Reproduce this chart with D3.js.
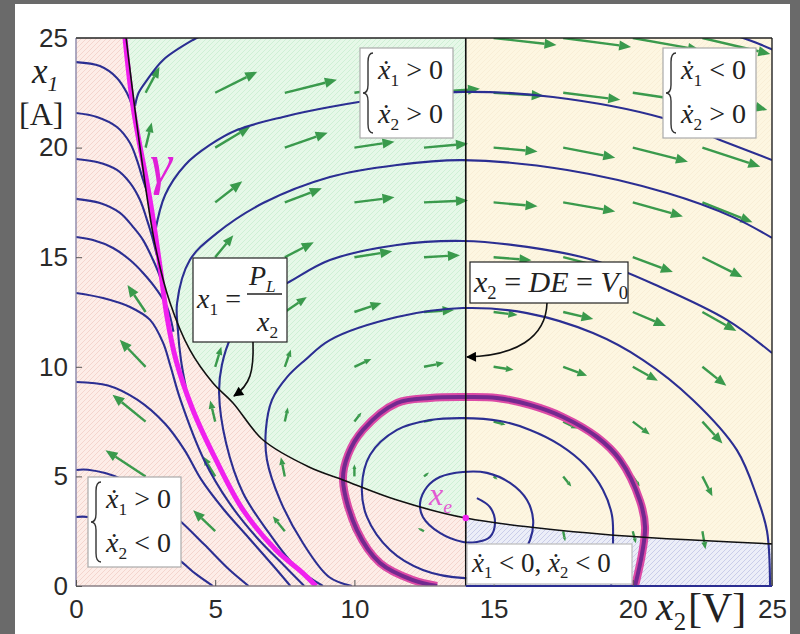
<!DOCTYPE html>
<html>
<head>
<meta charset="utf-8">
<script src="https://cdn.jsdelivr.net/npm/d3@7"></script>
<style>
  body { margin: 0; background: #6a6a6a; }
  svg { display: block; }
</style>
</head>
<body>
<div id="chart"></div>
<script>
// axis ticks
const xTicks = [0, 5, 10, 15, 20, 25];
const yTicks = [0, 5, 10, 15, 20, 25];

// x2 = DE = V0 and equilibrium x_e  (x2 [V], x1 [A])
const V0 = 14;
const xe = [14, 3.1];

// x1 = P_L / x2
const hyperbola = [[1.80,25],[2.30,20],[2.84,15.56],[3.38,12.91],[4.09,10.77],[4.92,9.26],[5.64,8.35],
  [6.72,6.66],[8.37,5.43],[9.59,4.84],[11.53,3.92],[14,3.1],[18.82,2.37],[25,1.92]];

// gamma (magenta separatrix)
const gamma = [[1.76,25],[2.05,21.85],[2.66,17.61],[3.02,14.55],[3.27,12.27],[3.59,10.31],[4.20,8.03],
  [5.03,5.75],[6.00,3.47],[7.18,1.64],[8.15,0.59],[8.62,0]];

// thick purple trajectory around x_e
const ring = [[12.97,0],[12.10,0.27],[10.92,1.05],[10.09,2.55],[9.59,4.84],[9.77,5.98],[10.31,7.12],
  [11.53,8.35],[12.72,8.58],[13.90,8.62],[15.12,8.58],[16.31,8.26],[17.49,7.71],[18.71,6.80],
  [19.54,5.75],[20.26,3.88],[20.44,2.69],[20.33,1.46],[20.08,0]];

// spiral leaving x_e
const spiral = [[14.40,4.01],[14.87,3.60],[15.05,2.87],[14.87,2.24],[14.40,2.01],[13.90,2.01],[13.07,2.42],
  [12.46,3.15],[12.36,3.79],[12.61,4.52],[13.07,4.97],[13.90,5.20],[14.76,5.16],[15.59,4.70],[16.20,3.92],
  [16.42,3.01],[16.31,2.10],[15.77,0.96],[14.87,0.46],[13.97,0.36],[12.46,0.73],[11.28,1.64],[10.45,3.15],
  [10.27,4.52],[10.56,5.98],[11.53,7.12],[12.72,7.57],[13.90,7.66],[15.23,7.53],[16.31,7.12],[17.39,6.43],
  [18.28,5.52],[18.93,4.38],[19.25,3.24],[19.29,2.05],[19.22,0]];

// trajectories left of gamma
const left1 = [[0,23.9],[0.86,23.72],[1.47,23.18],[1.83,22.49],[2.03,21.85],[2.12,21.2]];
const left2 = [[0,21.58],[0.75,21.40],[1.47,20.94],[1.94,20.21],[2.19,19.43],[2.41,18.52],[2.6,17.8]];
const left3 = [[0,19.48],[0.75,19.34],[1.47,18.98],[1.94,18.39],[2.30,17.61],[2.55,16.70],[2.77,15.78],[2.9,15.1]];
const left4 = [[0,17.66],[0.86,17.47],[1.58,17.02],[2.05,16.38],[2.41,15.78],[2.77,14.87],[3.02,14.10],[3.2,13.3]];
const left5 = [[0,15.92],[0.61,15.78],[1.33,15.42],[1.94,14.87],[2.41,14.28],[2.91,13.50],[3.27,12.73],[3.5,11.6]];
const left6 = [[0,13.37],[0.97,13.14],[1.94,12.73],[2.66,12.14],[3.13,11.09],[3.40,10.0],[3.75,8.5],
  [4.6,5.75],[5.5,3.8],[6.5,2.2],[7.5,0.9],[8.2,0]];
const left7 = [[0,9.31],[1.15,9.15],[2.2,8.5],[3.2,7.4],[3.9,6.2],[4.5,4.85],[5.3,3.5],[6.2,2.2],[7.1,0.9],[7.7,0]];
const left8 = [[0,5.29],[0.43,5.3],[1.6,4.9],[2.8,3.9],[3.70,3.01],[4.6,1.9],[5.5,0.75],[6.2,0]];
const left9 = [[0,3.15],[0.43,3.15],[1.6,2.7],[2.8,1.9],[3.70,1.19],[4.3,0.55],[4.92,0]];

// trajectories right of gamma
const right1 = [[2.12,21.9],[2.25,22.5],[2.55,23.08],[3.13,24.0],[4.20,24.91],[4.5,25.1]];
const right2 = [[2.84,16.15],[3.20,17.84],[3.92,19.21],[4.81,20.12],[5.78,20.80],[7.44,21.40],[9.12,21.85],
  [11.17,22.26],[13.90,22.54],[17.13,22.31],[21.08,21.35],[23.13,20.35],[25,19.43]];
const right3 = [[3.95,9.03],[3.77,10.31],[3.66,11.68],[3.63,12.91],[4.09,14.87],[5.06,16.10],[6.72,17.47],
  [9.12,18.66],[11.53,19.21],[13.90,19.43],[17.64,18.98],[21.23,17.93],[23.60,16.83],[25,15.88]];
const right4 = [[8.87,0],[7.90,0.87],[6.93,2.42],[6.00,4.24],[5.39,6.52],[5.14,8.80],[5.24,10.08],[5.60,11.45],
  [6.43,13.05],[7.58,13.82],[9.12,14.87],[11.53,15.56],[13.90,15.74],[16.20,15.47],[18.57,14.87],
  [20.98,13.64],[23.38,12.14],[25,10.63]];
const right5 = [[9.91,0],[9.09,0.41],[8.15,1.96],[7.33,3.92],[6.86,5.75],[6.82,7.12],[7.04,8.49],[7.58,9.53],
  [8.23,10.31],[9.12,11.22],[11.53,12.27],[13.90,12.68],[16.20,12.45],[18.57,11.54],[20.37,10.31],
  [22.16,8.49],[23.74,6.20],[24.46,4.06],[24.82,2.51],[24.93,0]];
const corner = [[23.85,25.05],[24.5,24.75],[25.05,24.45]];

// vector field (quiver): grid point and vector components in axis units
const quiverX2 = [15,17.5,20,22.5, 2.5,5,7.5,10,12.5,15,17.5,20,22.5, 2.5,5,7.5,10,12.5,15,17.5,20,22.5,
  5,7.5,10,12.5,15,17.5,20,22.5, 5,7.5,10,12.5,15,17.5,20,22.5, 2.5,7.5,10,12.5,15,17.5,20,22.5,
  2.5,5,7.5,10,12.5,15,17.5,20,22.5, 2.5,5,7.5,10,12.5,15,17.5,20,22.5, 2.5,5,7.5,10,12.5,15,17.5,20,22.5,
  5,7.5,10,12.5,17.5,20,22.5];
const quiverX1 = [25,25,25,25, 22.5,22.5,22.5,22.5,22.5,22.5,22.5,22.5,22.5, 20,20,20,20,20,20,20,20,20,
  17.5,17.5,17.5,17.5,17.5,17.5,17.5,17.5, 15,15,15,15,15,15,15,15, 12.5,12.5,12.5,12.5,12.5,12.5,12.5,12.5,
  10,10,10,10,10,10,10,10,10, 7.5,7.5,7.5,7.5,7.5,7.5,7.5,7.5,7.5, 5,5,5,5,5,5,5,5,5,
  2.5,2.5,2.5,2.5,2.5,2.5,2.5];
const quiverU = [2.26,2.44,2.41,2.44, 0.50,1.51,1.87,1.98,2.01,1.80,2.05,2.16,2.33, 0.22,1.26,1.54,1.44,1.58,1.58,1.87,1.98,2.08,
  0.97,1.33,1.44,1.58,1.58,1.87,1.80,1.80, 0.65,1.04,1.36,1.29,1.36,1.72,1.44,1.44, -0.65,0.79,0.97,1.08,0.86,1.08,1.19,1.22,
  -0.93,0.22,0.22,0.61,0.72,0.72,0.86,0.90,0.86, -1.19,-0.18,0.11,0.25,0.36,0.43,0.50,0.61,0.72,
  -1.44,-0.43,-0.14,0,0.18,0.14,0.29,0.25,0.36, -0.79,-0.43,-0.14,-0.22,0.07,0.11,0.11];
const quiverV = [-0.32,-0.41,-0.55,-0.73, 1.19,0.96,0.59,0.36,0.18,-0.14,-0.32,-0.41,-0.78, 1.14,0.96,0.68,0.27,0.18,-0.18,-0.46,-0.64,-0.87,
  0.96,0.64,0.23,0.09,-0.18,-0.41,-0.64,-0.91, 1.00,0.68,0.27,0.09,-0.14,-0.55,-0.68,-0.91, 1.23,0.68,0.41,0.09,-0.14,-0.32,-0.64,-0.87,
  1.23,0.91,0.78,0.36,0.18,-0.14,-0.41,-0.64,-0.87, 1.23,0.96,0.64,0.41,0.09,-0.14,-0.32,-0.59,-1.00,
  1.19,0.91,0.87,0.55,0.18,-0.14,-0.46,-0.46,-0.91, 0.96,0.68,0.46,0.14,-0.46,-0.55,-0.82];

const w = 800, h = 634;
const serif = "'Liberation Serif', 'DejaVu Serif', serif";
const sans = "'Liberation Sans', Arial, sans-serif";

const x = d3.scaleLinear().domain([0, 25]).range([76, 772]);
const y = d3.scaleLinear().domain([0, 25]).range([586, 38]);

const svg = d3.select("#chart").append("svg").attr("width", w).attr("height", h);
svg.append("rect").attr("width", w).attr("height", h).attr("fill", "#6a6a6a");
svg.append("rect").attr("x", 15).attr("y", 4).attr("width", 775).attr("height", 630).attr("fill", "#fff");

const defs = svg.append("defs");
defs.append("clipPath").attr("id", "plot").append("rect")
  .attr("x", x(0)).attr("y", y(25)).attr("width", x(25) - x(0)).attr("height", y(0) - y(25));

function hatch(id, bg, line) {
  const p = defs.append("pattern").attr("id", id).attr("patternUnits", "userSpaceOnUse")
    .attr("width", 5).attr("height", 5);
  p.append("rect").attr("width", 5).attr("height", 5).attr("fill", bg);
  p.append("path").attr("d", "M-1,1 l2,-2 M0,5 l5,-5 M4,6 l2,-2")
    .attr("stroke", line).attr("stroke-width", 0.9);
}
hatch("pink", "#fdede8", "#f3d3cb");
hatch("green", "#e6f8e8", "#cdefd3");
hatch("yellow", "#fdf6e1", "#f8edd5");
hatch("blue", "#eceef8", "#c6cae8");

defs.append("marker").attr("id", "head").attr("viewBox", "0 0 10 10")
  .attr("refX", 9).attr("refY", 5).attr("markerWidth", 15).attr("markerHeight", 10)
  .attr("markerUnits", "userSpaceOnUse").attr("orient", "auto")
  .append("path").attr("d", "M0,0 L10,5 L0,10 Z").attr("fill", "#000");

const curve = d3.line().x(d => x(d[0])).y(d => y(d[1])).curve(d3.curveCatmullRom.alpha(0.5));
const seg = pts => "L" + curve(pts).slice(1);

const plot = svg.append("g").attr("clip-path", "url(#plot)");

// regions
const hypL = hyperbola.filter(d => d[0] <= V0);
const hypR = hyperbola.filter(d => d[0] >= V0);
plot.append("path").attr("fill", "url(#pink)")
  .attr("d", `M${x(0)},${y(0)}L${x(0)},${y(25)}${seg(hypL)}L${x(V0)},${y(0)}Z`);
plot.append("path").attr("fill", "url(#green)")
  .attr("d", `${curve(hypL)}L${x(V0)},${y(25)}Z`);
plot.append("path").attr("fill", "url(#yellow)")
  .attr("d", `M${x(V0)},${y(25)}L${x(25)},${y(25)}${seg(hypR.slice().reverse())}Z`);
plot.append("path").attr("fill", "url(#blue)")
  .attr("d", `${curve(hypR)}L${x(25)},${y(0)}L${x(V0)},${y(0)}Z`);

// vector field
const quiver = quiverX2.map((d, i) => ({x2: d, x1: quiverX1[i], u: quiverU[i], v: quiverV[i]}));
quiver.forEach(q => {
  const x0 = x(q.x2), y0 = y(q.x1), x1 = x(q.x2 + q.u), y1 = y(q.x1 + q.v);
  const len = Math.hypot(x1 - x0, y1 - y0);
  if (len < 1) return;
  const ux = (x1 - x0) / len, uy = (y1 - y0) / len;
  const hl = Math.min(12, len * 0.38), hw = hl * 0.42;
  const bx = x1 - ux * hl, by = y1 - uy * hl;
  plot.append("line").attr("x1", x0).attr("y1", y0).attr("x2", bx).attr("y2", by)
    .attr("stroke", "#3a9a4c").attr("stroke-width", 2.4);
  plot.append("path")
    .attr("d", `M${x1},${y1}L${bx - uy * hw},${by + ux * hw}L${bx + uy * hw},${by - ux * hw}Z`)
    .attr("fill", "#3a9a4c");
});

// trajectories
const trajectories = [left1, left2, left3, left4, left5, left6, left7, left8, left9,
  right1, right2, right3, right4, right5, corner, spiral];
plot.selectAll("path.traj").data(trajectories).join("path").attr("class", "traj")
  .attr("d", curve).attr("fill", "none").attr("stroke", "#2b2e92").attr("stroke-width", 2.1);

plot.append("path").attr("d", curve(ring)).attr("fill", "none")
  .attr("stroke", "#dc4aa6").attr("stroke-width", 8);
plot.append("path").attr("d", curve(ring)).attr("fill", "none")
  .attr("stroke", "#73298f").attr("stroke-width", 4);

plot.append("path").attr("d", curve(gamma)).attr("fill", "none")
  .attr("stroke", "#f020ee").attr("stroke-width", 5);

plot.append("path").attr("d", curve(hyperbola)).attr("fill", "none")
  .attr("stroke", "#111").attr("stroke-width", 1.6);
plot.append("line").attr("x1", x(V0)).attr("x2", x(V0)).attr("y1", y(25)).attr("y2", y(0))
  .attr("stroke", "#111").attr("stroke-width", 1.6);

plot.append("circle").attr("cx", x(xe[0])).attr("cy", y(xe[1])).attr("r", 3.2).attr("fill", "#f020ee");

// frame
svg.append("line").attr("x1", x(0)).attr("x2", x(25)).attr("y1", y(25)).attr("y2", y(25)).attr("stroke", "#222").attr("stroke-width", 1.4);
svg.append("line").attr("x1", x(25)).attr("x2", x(25)).attr("y1", y(25)).attr("y2", y(0)).attr("stroke", "#222").attr("stroke-width", 1.4);
svg.append("line").attr("x1", x(0)).attr("x2", x(0)).attr("y1", y(25)).attr("y2", y(0)).attr("stroke", "#8a86a8").attr("stroke-width", 1.4);
svg.append("line").attr("x1", x(0)).attr("x2", x(V0)).attr("y1", y(0)).attr("y2", y(0)).attr("stroke", "#8a7f86").attr("stroke-width", 1.6);
svg.append("line").attr("x1", x(V0)).attr("x2", x(25)).attr("y1", y(0)).attr("y2", y(0)).attr("stroke", "#2b2e92").attr("stroke-width", 2.2);

// axes
const yAxis = svg.append("g").attr("transform", `translate(${x(0)},0)`)
  .call(d3.axisLeft(y).tickValues(yTicks).tickSize(-6).tickPadding(8));
const xAxis = svg.append("g").attr("transform", `translate(0,${y(0)})`)
  .call(d3.axisBottom(x).tickValues(xTicks).tickSize(-6).tickPadding(14));
[xAxis, yAxis].forEach(g => {
  g.select(".domain").remove();
  g.selectAll("line").attr("stroke", "#555");
  g.selectAll("text").attr("font-family", sans).attr("font-size", 26).attr("fill", "#2a2a2a");
});

// rich text helper: parts = [text, kind] with kind "i" italic, "n" normal, "s"/"si" subscript
function rich(xp, yp, fs, parts, color) {
  const t = svg.append("text").attr("x", xp).attr("y", yp)
    .attr("font-family", serif).attr("font-size", fs).attr("fill", color || "#222");
  let low = false;
  parts.forEach(([s, k]) => {
    const sp = t.append("tspan").text(s);
    if (k === "s" || k === "si") {
      sp.attr("font-size", fs * 0.62);
      if (k === "si") sp.attr("font-style", "italic");
      if (!low) { sp.attr("dy", fs * 0.24); low = true; }
    } else {
      if (k === "i") sp.attr("font-style", "italic");
      if (low) { sp.attr("dy", -fs * 0.24); low = false; }
    }
  });
  return t;
}

function box(bx, by, bw, bh, stroke) {
  svg.append("rect").attr("x", bx).attr("y", by).attr("width", bw).attr("height", bh)
    .attr("fill", "#fff").attr("stroke", stroke).attr("stroke-width", 1.2);
}

function brace(xl, t, b) {
  const m = (t + b) / 2, xm = xl + 5;
  svg.append("path")
    .attr("d", `M${xl + 10},${t} Q${xm},${t} ${xm},${t + 9} L${xm},${m - 8} Q${xm},${m} ${xl},${m}` +
      ` Q${xm},${m} ${xm},${m + 8} L${xm},${b - 9} Q${xm},${b} ${xl + 10},${b}`)
    .attr("fill", "none").attr("stroke", "#333").attr("stroke-width", 1.4);
}

function caseBox(bx, by, op1, op2) {
  box(bx, by, 93, 90, "#aaa");
  brace(bx + 3, by + 5, by + 85);
  rich(bx + 18, by + 31, 28, [["ẋ", "i"], ["1", "s"], [` ${op1} 0`, "n"]]);
  rich(bx + 18, by + 75, 28, [["ẋ", "i"], ["2", "s"], [` ${op2} 0`, "n"]]);
}
caseBox(360, 48, ">", ">");
caseBox(663, 48, "<", ">");
caseBox(88, 477, ">", "<");

box(467, 544, 165, 40, "#bbb");
rich(472, 572, 27, [["ẋ", "i"], ["1", "s"], [" < 0, ", "n"], ["ẋ", "i"], ["2", "s"], [" < 0", "n"]]);

// x1 = P_L / x2
box(193, 258, 94, 84, "#222");
rich(197, 308, 28, [["x", "i"], ["1", "s"], [" =", "n"]]);
rich(249, 285, 28, [["P", "i"], ["L", "si"]]);
svg.append("line").attr("x1", 247).attr("x2", 282).attr("y1", 294).attr("y2", 294).attr("stroke", "#222").attr("stroke-width", 1.3);
rich(257, 331, 28, [["x", "i"], ["2", "s"]]);

// x2 = DE = V0
box(470, 262, 158, 41, "#222");
rich(474, 292, 30, [["x", "i"], ["2", "s"], [" = ", "n"], ["DE", "i"], [" = ", "n"], ["V", "i"], ["0", "s"]]);

// annotation arrows
svg.append("path").attr("d", "M253,342 C254,372 250,385 234,396")
  .attr("fill", "none").attr("stroke", "#111").attr("stroke-width", 1.6).attr("marker-end", "url(#head)");
svg.append("path").attr("d", "M547,303 C546,338 515,356 467,357")
  .attr("fill", "none").attr("stroke", "#111").attr("stroke-width", 1.6).attr("marker-end", "url(#head)");

// gamma and x_e labels
svg.append("text").attr("x", 150).attr("y", 183).attr("font-family", serif).attr("font-style", "italic")
  .attr("font-size", 56).attr("fill", "#e020d8").text("γ");
rich(429, 505, 32, [["x", "i"], ["e", "si"]], "#e25ad2");

// axis titles
rich(32, 83, 35, [["x", "i"], ["1", "si"]], "#222");
svg.append("text").attr("x", 19).attr("y", 125).attr("font-family", serif).attr("font-size", 32)
  .attr("fill", "#222").text("[A]");
rich(656, 620, 40, [["x", "i"], ["2", "s"]], "#222");
svg.append("text").attr("x", 688).attr("y", 622).attr("font-family", serif).attr("font-size", 42)
  .attr("fill", "#222").text("[V]");
</script>
</body>
</html>
